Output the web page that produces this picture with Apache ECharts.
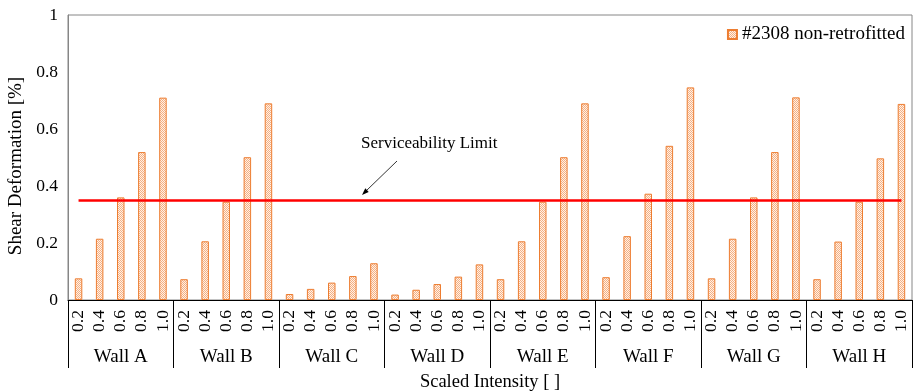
<!DOCTYPE html>
<html>
<head>
<meta charset="utf-8">
<script src="https://cdn.jsdelivr.net/npm/echarts@6/dist/echarts.min.js"></script>
<style>html,body{margin:0;padding:0;background:#fff;}#c{width:915px;height:392px;}</style>
</head>
<body>
<div id="c"></div>
<script>
const walls = ['Wall A','Wall B','Wall C','Wall D','Wall E','Wall F','Wall G','Wall H'];
const intensities = ['0.2','0.4','0.6','0.8','1.0'];
const wallA = [0.076, 0.215, 0.360, 0.519, 0.710];
const wallB = [0.073, 0.206, 0.345, 0.501, 0.690];
const wallC = [0.021, 0.039, 0.061, 0.084, 0.129];
const wallD = [0.019, 0.036, 0.056, 0.082, 0.125];
const wallE = [0.073, 0.206, 0.345, 0.501, 0.690];
const wallF = [0.080, 0.224, 0.373, 0.541, 0.746];
const wallG = [0.076, 0.215, 0.360, 0.519, 0.711];
const wallH = [0.073, 0.205, 0.345, 0.497, 0.688];
const seriesName = '#2308 non-retrofitted';
const serviceabilityLimit = 0.35;

const allWalls = [wallA, wallB, wallC, wallD, wallE, wallF, wallG, wallH];
const categories = [];
const values = [];
allWalls.forEach(w => { intensities.forEach((t, i) => { categories.push(t); values.push(w[i]); }); });

// dotted fill pattern
const pc = document.createElement('canvas');
pc.width = 2; pc.height = 2;
const px = pc.getContext('2d');
px.fillStyle = '#FFF1E6'; px.fillRect(0,0,2,2);
px.fillStyle = '#F4B084'; px.fillRect(0,0,1,1); px.fillRect(1,1,1,1);

const FONT = '"Liberation Serif", "Times New Roman", serif';
const chart = echarts.init(document.getElementById('c'), null, {renderer:'canvas'});
chart.setOption({
  animation: false,
  backgroundColor: '#fff',
  textStyle: {fontFamily: FONT, color: '#000'},
  grid: {left: 68, right: 3, top: 15, bottom: 92, show: true, borderColor: '#868686', borderWidth: 1, containLabel: false, outerBoundsMode: 'none'},
  legend: {
    right: 5, top: 20, icon: 'rect', itemWidth: 9, itemHeight: 9, itemGap: 4,
    textStyle: {fontFamily: FONT, fontSize: 19, color: '#000'},
    data: [seriesName]
  },
  xAxis: [
    {
      type: 'category', data: categories, position: 'bottom', boundaryGap: true,
      axisLine: {show: true, lineStyle: {color: '#000', width: 1}},
      axisTick: {show: false},
      axisLabel: {interval: 0, rotate: 90, margin: 10, fontSize: 17.5, fontFamily: FONT, color: '#000'},
      splitLine: {show: false}
    },
    {
      type: 'category', data: walls, position: 'bottom', boundaryGap: true,
      axisLine: {show: false},
      axisTick: {show: true, length: 68, interval: 0, alignWithLabel: false, lineStyle: {color: '#000', width: 1}},
      axisLabel: {interval: 0, margin: 48, fontSize: 19, fontFamily: FONT, color: '#000'},
      name: 'Scaled Intensity [ ]', nameLocation: 'middle', nameGap: 73,
      nameTextStyle: {fontSize: 18.5, fontFamily: FONT, color: '#000'},
      splitLine: {show: false}
    }
  ],
  yAxis: {
    type: 'value', min: 0, max: 1, interval: 0.2,
    axisLine: {show: true, lineStyle: {color: '#868686', width: 1}},
    axisTick: {show: false},
    splitLine: {show: false},
    axisLabel: {fontSize: 17.5, fontFamily: FONT, color: '#000', margin: 10, padding: [4, 0, 0, 0],
      formatter: v => (v === 0 || v === 1) ? String(v) : v.toFixed(1)},
    name: 'Shear Deformation [%]', nameLocation: 'middle', nameGap: 35,
    nameTextStyle: {fontSize: 19, fontFamily: FONT, color: '#000', padding: [0, 17, 0, 0]}
  },
  series: [{
    name: seriesName, type: 'bar', xAxisIndex: 0, yAxisIndex: 0,
    data: values, barWidth: 7.5,
    itemStyle: {color: {image: pc, repeat: 'repeat'}, borderColor: '#ED7D31', borderWidth: 1},
    markLine: {
      silent: true, symbol: ['none','none'],
      lineStyle: {color: '#FF0000', width: 2.5, type: 'solid'},
      label: {show: false},
      data: [[{xAxis: 0, yAxis: serviceabilityLimit}, {xAxis: categories.length - 1, yAxis: serviceabilityLimit}]]
    }
  }],
  graphic: [
    {type: 'text', left: 361, top: 135, style: {text: 'Serviceability Limit', font: '17px "Liberation Serif"', fill: '#000'}},
    {type: 'line', shape: {x1: 397, y1: 161, x2: 366, y2: 191}, style: {stroke: '#000', lineWidth: 0.8}},
    {type: 'polygon', shape: {points: [[362,195],[368.7,191.9],[365.3,188.3]]}, style: {fill: '#000'}}
  ]
});
</script>
</body>
</html>
